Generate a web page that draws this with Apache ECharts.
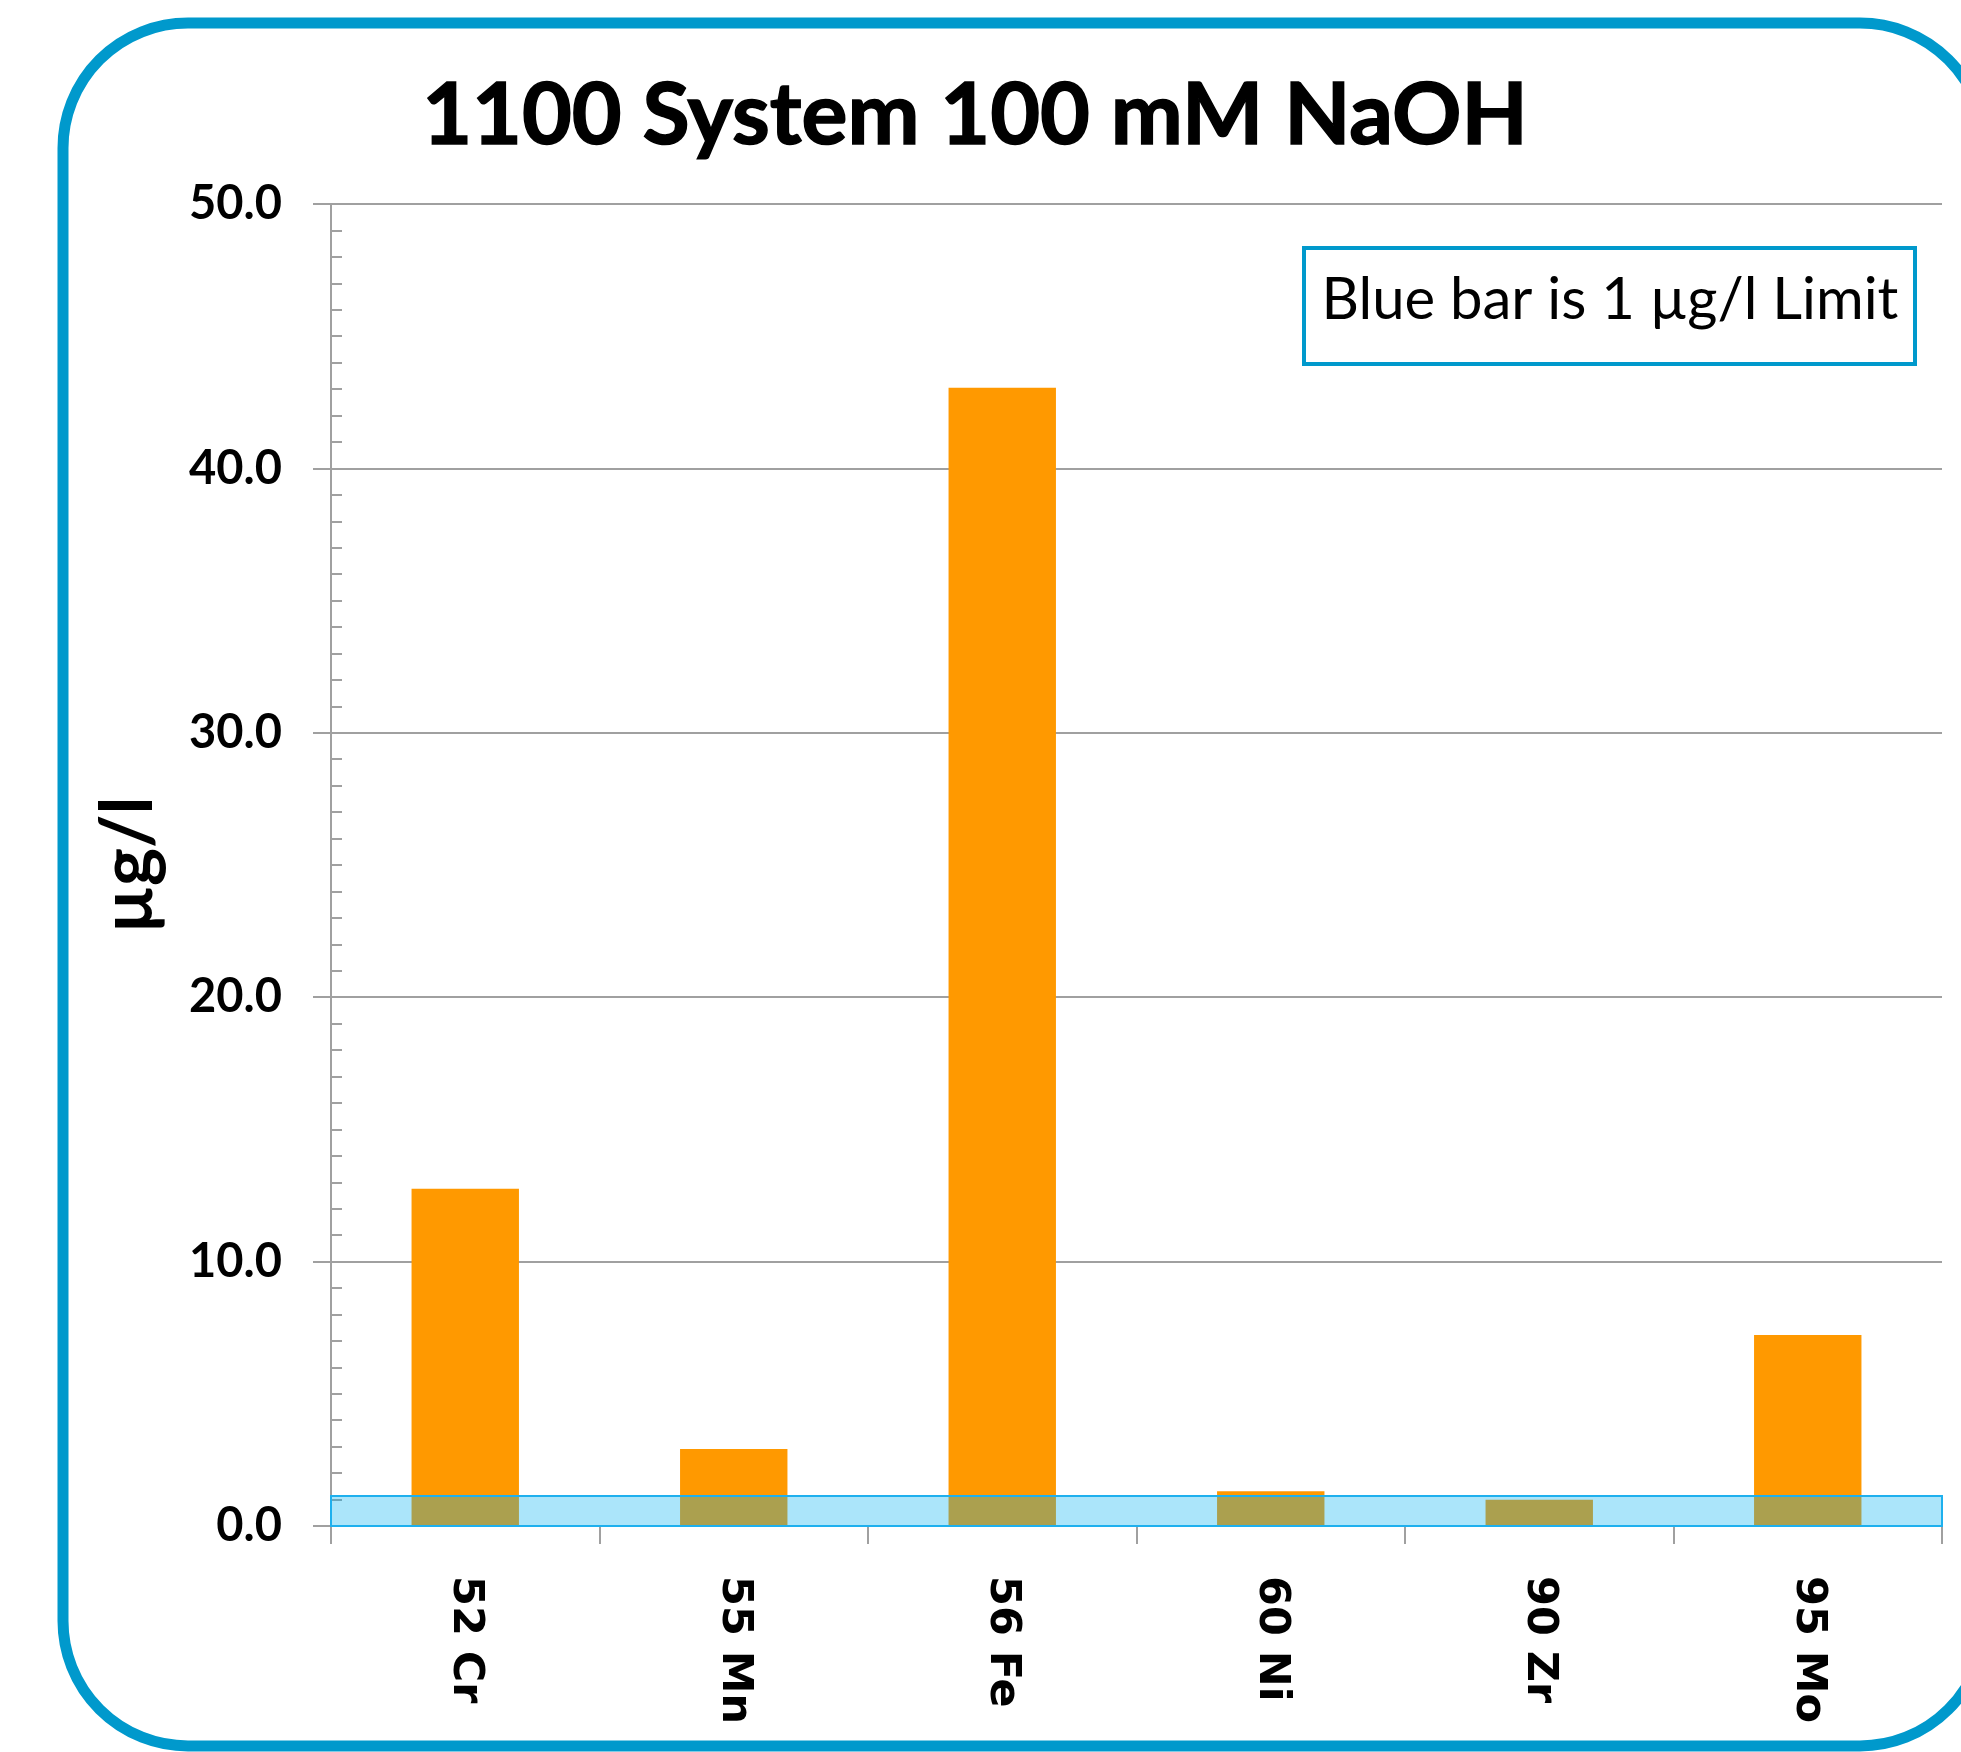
<!DOCTYPE html>
<html>
<head>
<meta charset="utf-8">
<script src="https://cdn.jsdelivr.net/npm/echarts@6/dist/echarts.min.js"></script>
<style>
html,body{margin:0;padding:0;background:#fff;}
#chart{width:1961px;height:1752px;}
</style>
</head>
<body>
<div id="chart"></div>
<script>
const titleText = '1100 System 100 mM NaOH';
const categories = ['52 Cr', '55 Mn', '56 Fe', '60 Ni', '90 Zr', '95 Mo'];
const values = [12.76, 2.91, 43.05, 1.31, 0.99, 7.22];
const limitBand = [0, 1.13];
const yMin = 0, yMax = 50, yInterval = 10;
const yAxisName = 'µg/l';
const noteText = 'Blue bar is 1 µg/l Limit';

const chart = echarts.init(document.getElementById('chart'), null, {renderer: 'canvas'});
const grey = '#a0a0a0';
chart.setOption({
  backgroundColor: '#ffffff',
  animation: false,
  grid: {left: 331, right: 19, top: 204, bottom: 226, containLabel: false},
  graphic: [
    {type: 'rect', z: 0, shape: {x: 63, y: 23, width: 1922, height: 1723, r: 125},
     style: {fill: 'none', stroke: '#0099cc', lineWidth: 11}},
    {type: 'text', z: 10, x: 975, y: 116,
     style: {text: titleText, font: 'bold 86px Lato', fill: '#000', textAlign: 'center', textVerticalAlign: 'middle',
             stroke: '#000', lineWidth: 1.5}},
    {type: 'rect', z: 10, shape: {x: 1304, y: 248, width: 611, height: 116},
     style: {fill: '#fff', stroke: '#0099cc', lineWidth: 4}},
    {type: 'text', z: 11, x: 1610, y: 300,
     style: {text: noteText, font: '58px Lato', fill: '#000', textAlign: 'center', textVerticalAlign: 'middle'}}
  ],
  xAxis: {
    type: 'category',
    data: categories,
    boundaryGap: true,
    axisLine: {show: true, lineStyle: {color: grey, width: 2}},
    axisTick: {show: true, length: 18, lineStyle: {color: grey, width: 2}},
    axisLabel: {rotate: -90, margin: 50, fontFamily: 'DejaVu Sans', fontWeight: 'bold', fontSize: 43, color: '#000'},
    splitLine: {show: false}
  },
  yAxis: {
    type: 'value',
    min: yMin, max: yMax, interval: yInterval,
    name: yAxisName,
    nameLocation: 'middle',
    nameRotate: 90,
    nameGap: 166,
    nameTextStyle: {fontFamily: 'Lato', fontWeight: 'bold', fontSize: 72, color: '#000'},
    axisLine: {show: true, lineStyle: {color: grey, width: 2}},
    axisTick: {show: true, length: 18, lineStyle: {color: grey, width: 2}},
    minorTick: {show: true, splitNumber: 10, length: -11, lineStyle: {color: grey, width: 2}},
    splitLine: {show: true, lineStyle: {color: grey, width: 2}},
    axisLabel: {margin: 49, fontFamily: 'Lato', fontWeight: 'bold', fontSize: 47, color: '#000',
      formatter: v => v.toFixed(1)}
  },
  series: [{
    type: 'bar',
    data: values,
    barWidth: '40%',
    itemStyle: {color: '#ff9900'},
    z: 2,
    markArea: {
      silent: true,
      z: 5,
      itemStyle: {color: 'rgba(0,176,240,0.33)', borderColor: '#1eb0ee', borderWidth: 2},
      data: [[{yAxis: limitBand[0]}, {yAxis: limitBand[1]}]]
    }
  }]
});
</script>
</body>
</html>
